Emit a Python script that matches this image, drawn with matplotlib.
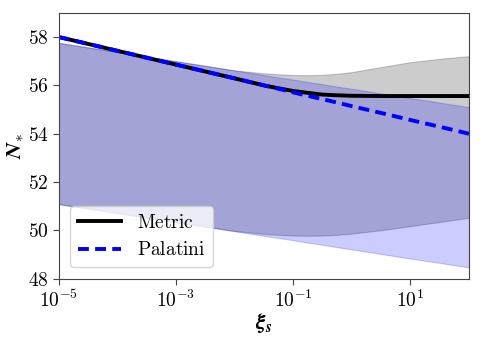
import numpy as np
import matplotlib
matplotlib.use('Agg')
import matplotlib.pyplot as plt
from matplotlib.ticker import FuncFormatter, FixedLocator, NullLocator

plt.rcParams['mathtext.fontset'] = 'cm'
plt.rcParams['font.family'] = ['serif']
plt.rcParams['font.serif'] = ['DejaVu Serif']

# log10(xi_s) sample points
log_xi = [-5, -4, -3, -2, -1.5, -1.25, -1, -0.75, -0.5, -0.25, 0, 0.5, 1, 1.5, 2]

# central values
metric = [58.0, 57.43, 56.86, 56.29, 56.0, 55.88, 55.77, 55.69, 55.62, 55.59, 55.57,
          55.56, 55.56, 55.56, 55.56]
palatini = [58.0, 57.43, 56.86, 56.29, 56.0, 55.86, 55.71, 55.57, 55.43, 55.29, 55.14,
            54.86, 54.57, 54.29, 54.0]

# metric band
metric_hi = [57.76, 57.38, 57.0, 56.62, 56.5, 56.46, 56.43, 56.42, 56.44, 56.48, 56.55,
             56.76, 56.96, 57.1, 57.21]
metric_lo = [51.09, 50.72, 50.34, 49.98, 49.86, 49.82, 49.79, 49.78, 49.79, 49.82, 49.87,
             50.01, 50.18, 50.35, 50.53]

# palatini band
palatini_hi = [57.76, 57.38, 57.0, 56.62, 56.43, 56.33, 56.24, 56.14, 56.05, 55.95, 55.86,
               55.67, 55.48, 55.29, 55.1]
palatini_lo = [51.09, 50.72, 50.34, 49.97, 49.78, 49.69, 49.6, 49.5, 49.41, 49.31, 49.22,
               49.03, 48.84, 48.66, 48.47]

xi = 10.0 ** np.array(log_xi)

fig = plt.figure(figsize=(4.82, 3.38), dpi=100)
ax = fig.add_axes([0.122, 0.175, 0.851, 0.787])

ax.fill_between(xi, metric_lo, metric_hi, color='black', alpha=0.2, lw=0.8)
ax.fill_between(xi, palatini_lo, palatini_hi, color='blue', alpha=0.2, lw=0.8)
ax.plot(xi, metric, color='black', lw=2.8, label=r'$\mathrm{Metric}$')
ax.plot(xi, palatini, color='blue', lw=2.8, ls='--', dashes=(2.8, 1.6),
        label=r'$\mathrm{Palatini}$')

ax.set_xscale('log')
ax.set_xlim(1e-5, 1e2)
ax.set_ylim(48, 59)
ax.xaxis.set_major_locator(FixedLocator([1e-5, 1e-3, 1e-1, 1e1]))
ax.xaxis.set_minor_locator(NullLocator())
ax.xaxis.set_major_formatter(FuncFormatter(lambda v, p: r'$10^{%d}$' % round(np.log10(v))))
ax.set_yticks([48, 50, 52, 54, 56, 58])
ax.yaxis.set_major_formatter(FuncFormatter(lambda v, p: r'$%d$' % v))
ax.tick_params(labelsize=14, length=4, color='#444444')
for s in ax.spines.values():
    s.set_color('#444444')

ax.set_xlabel(r'$\mathbfit{\xi}_{\mathbfit{s}}$', fontsize=16, labelpad=0)
ax.set_ylabel(r'$\mathbfit{N}_{\mathbf{*}}$', fontsize=16, labelpad=1)

ax.legend(loc='lower left', fontsize=14, handlelength=2.2, borderaxespad=0.6)

fig.savefig('out.png', dpi=100)
